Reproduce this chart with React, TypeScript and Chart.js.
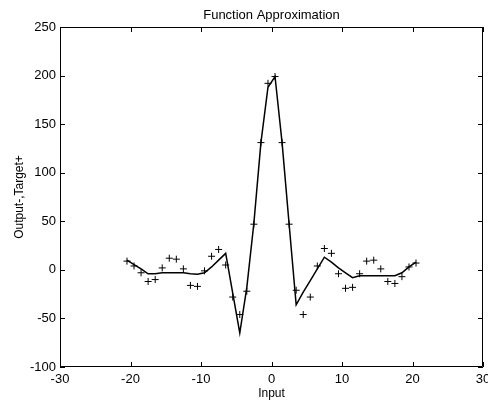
import React, { useEffect, useRef } from "react";
import { Chart, registerables } from "chart.js";

Chart.register(...registerables);

const inputs = [
  -20.5, -19.5, -18.5, -17.5, -16.5, -15.5, -14.5, -13.5, -12.5, -11.5, -10.5,
  -9.5, -8.5, -7.5, -6.5, -5.5, -4.5, -3.5, -2.5, -1.5, -0.5, 0.5, 1.5, 2.5,
  3.5, 4.5, 5.5, 6.5, 7.5, 8.5, 9.5, 10.5, 11.5, 12.5, 13.5, 14.5, 15.5, 16.5,
  17.5, 18.5, 19.5, 20.5,
];
const targets = [
  9, 4, -3, -12, -10, 2, 12, 11, 1, -16, -17, -1, 14, 21, 5, -28, -46, -22, 47,
  131, 192, 199, 131, 47, -21, -46, -28, 4, 22, 17, -4, -19, -18, -4, 9, 10, 1,
  -12, -14, -7, 3, 7,
];
const outputs = [
  10, 5.5, 1, -4, -4, -3, -3, -3, -3, -4, -4.5, -3, 3, 10, 17, -24, -65, -18,
  48, 131, 188, 199, 131, 47, -36, -23, -11, 1, 13, 8, 2, -3, -8, -6, -6, -6,
  -6, -6, -6, -3, 3, 8,
];
const xTicks = [-30, -20, -10, 0, 10, 20, 30];
const yTicks = [-100, -50, 0, 50, 100, 150, 200, 250];

const titleText = "Function Approximation";
const xLabel = "Input";
const yLabel = "Output-,Target+";
const FONT = "'Liberation Sans', Arial, Helvetica, sans-serif";

const boxPlugin = {
  id: "matlabBox",
  afterDraw(chart: any) {
    const { ctx, chartArea: a, scales } = chart;
    const xs = scales.x;
    const ys = scales.y;
    ctx.save();
    ctx.strokeStyle = "#000";
    ctx.lineWidth = 1;
    ctx.beginPath();
    ctx.rect(a.left + 0.5, a.top + 0.5, a.right - a.left - 1, a.bottom - a.top - 1);
    ctx.stroke();
    const len = 5;
    ctx.beginPath();
    xTicks.forEach((v) => {
      const px = Math.round(xs.getPixelForValue(v)) + 0.5;
      ctx.moveTo(px, a.bottom);
      ctx.lineTo(px, a.bottom - len);
      ctx.moveTo(px, a.top);
      ctx.lineTo(px, a.top + len);
    });
    yTicks.forEach((v) => {
      const py = Math.round(ys.getPixelForValue(v)) + 0.5;
      ctx.moveTo(a.left, py);
      ctx.lineTo(a.left + len, py);
      ctx.moveTo(a.right, py);
      ctx.lineTo(a.right - len, py);
    });
    ctx.stroke();
    // title centred over the plot area (MATLAB style)
    ctx.fillStyle = "#000";
    ctx.font = `13px ${FONT}`;
    ctx.textAlign = "center";
    ctx.textBaseline = "middle";
    ctx.fillText(titleText, (a.left + a.right) / 2, 15);
    ctx.restore();
  },
};

export default function App() {
  const ref = useRef<HTMLCanvasElement | null>(null);

  useEffect(() => {
    if (!ref.current) return;
    const chart = new Chart(ref.current, {
      type: "scatter",
      data: {
        datasets: [
          {
            label: "Target",
            data: inputs.map((x, i) => ({ x, y: targets[i] })),
            showLine: false,
            pointStyle: "cross",
            pointRadius: 3.5,
            pointBorderWidth: 1,
            borderColor: "#000",
            backgroundColor: "#000",
          },
          {
            label: "Output",
            data: inputs.map((x, i) => ({ x, y: outputs[i] })),
            showLine: true,
            pointRadius: 0,
            borderWidth: 1.5,
            borderColor: "#000",
            backgroundColor: "#000",
            tension: 0,
          },
        ],
      },
      options: {
        animation: false,
        responsive: false,
        devicePixelRatio: 1,
        layout: { padding: { left: 0, right: 2, top: 27, bottom: 0 } },
        plugins: {
          legend: { display: false },
          tooltip: { enabled: false },
          title: { display: false },
        },
        scales: {
          x: {
            type: "linear",
            min: -30,
            max: 30,
            grid: { display: false, drawTicks: false },
            border: { display: false },
            ticks: {
              stepSize: 10,
              color: "#000",
              padding: 5,
              maxRotation: 0,
              font: { family: FONT, size: 13 },
            },
            title: {
              display: true,
              text: xLabel,
              color: "#000",
              font: { family: FONT, size: 12 },
              padding: { top: 0, bottom: 2.4 },
            },
            afterFit(scale: any) {
              scale.height = 36;
              scale.paddingLeft = 0;
              scale.paddingRight = 0;
            },
          },
          y: {
            type: "linear",
            min: -100,
            max: 250,
            grid: { display: false, drawTicks: false },
            border: { display: false },
            ticks: {
              stepSize: 50,
              color: "#000",
              padding: 4,
              font: { family: FONT, size: 13 },
            },
            title: {
              display: true,
              text: yLabel,
              color: "#000",
              font: { family: FONT, size: 12 },
              padding: { top: 12, bottom: 0 },
            },
            afterFit(scale: any) {
              scale.width = 60;
              scale.paddingTop = 0;
              scale.paddingBottom = 0;
            },
          },
        },
      },
      plugins: [boxPlugin],
    });
    return () => chart.destroy();
  }, []);

  return (
    <div style={{ position: "fixed", left: 0, top: 0, width: 488, height: 403, background: "#fff" }}>
      <canvas ref={ref} width={488} height={403} style={{ display: "block" }} />
    </div>
  );
}
